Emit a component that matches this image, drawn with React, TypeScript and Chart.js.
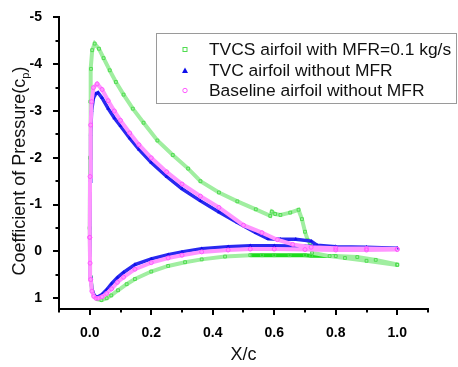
import { useEffect, useRef } from "react";
import { Chart, registerables } from "chart.js";

Chart.register(...registerables);

const FONT = "'Liberation Sans', Arial, Helvetica, sans-serif";

const SERIES_NAMES = [
  "TVCS airfoil with MFR=0.1 kg/s",
  "TVC airfoil without MFR",
  "Baseline airfoil without MFR",
];

// TVCS airfoil, MFR = 0.1 kg/s — suction side (leading edge -> trailing edge)
const tvcsUpperX = [0, 0.001, 0.002, 0.004, 0.008, 0.016, 0.03, 0.045, 0.065, 0.085, 0.11, 0.14, 0.175, 0.22, 0.27, 0.32, 0.36, 0.42, 0.48, 0.54, 0.587, 0.592, 0.603, 0.62, 0.652, 0.679, 0.69, 0.7, 0.709, 0.717, 0.723, 0.78, 0.83, 0.9, 1.0];
const tvcsUpperCp = [-0.5, -2.0, -3.2, -3.9, -4.3, -4.44, -4.33, -4.13, -3.87, -3.62, -3.35, -3.05, -2.75, -2.37, -2.06, -1.77, -1.5, -1.26, -1.07, -0.9, -0.76, -0.85, -0.8, -0.78, -0.83, -0.89, -0.69, -0.42, -0.24, -0.17, 0.03, 0.1, 0.14, 0.2, 0.29];
// TVCS airfoil — pressure side
const tvcsLowerX = [0, 0.001, 0.003, 0.007, 0.014, 0.025, 0.038, 0.055, 0.07, 0.092, 0.12, 0.147, 0.2, 0.255, 0.31, 0.364, 0.44, 0.522, 0.56, 0.6, 0.65, 0.7, 0.72, 0.8, 0.87, 0.93, 1.0];
const tvcsLowerCp = [-0.5, 0.2, 0.55, 0.82, 0.95, 1.02, 1.04, 1.0, 0.94, 0.83, 0.7, 0.59, 0.43, 0.31, 0.23, 0.17, 0.11, 0.08, 0.08, 0.08, 0.08, 0.08, 0.09, 0.1, 0.12, 0.18, 0.28];

// TVC airfoil without mass flow
const tvcUpperX = [0, 0.001, 0.003, 0.006, 0.012, 0.02, 0.027, 0.04, 0.06, 0.08, 0.1, 0.13, 0.16, 0.2, 0.25, 0.3, 0.36, 0.42, 0.48, 0.54, 0.58, 0.62, 0.67, 0.72, 0.74, 0.8, 0.9, 1.0];
const tvcUpperCp = [-0.3, -1.5, -2.5, -3.0, -3.28, -3.37, -3.39, -3.28, -3.05, -2.85, -2.68, -2.42, -2.18, -1.9, -1.6, -1.34, -1.08, -0.84, -0.62, -0.4, -0.27, -0.26, -0.26, -0.22, -0.13, -0.1, -0.08, -0.07];
const tvcLowerX = [0, 0.001, 0.003, 0.007, 0.013, 0.02, 0.027, 0.04, 0.055, 0.071, 0.09, 0.11, 0.147, 0.2, 0.255, 0.3, 0.364, 0.45, 0.522, 0.6, 0.7, 0.8, 0.9, 1.0];
const tvcLowerCp = [-0.3, 0.2, 0.55, 0.8, 0.92, 0.97, 0.97, 0.92, 0.82, 0.69, 0.56, 0.45, 0.28, 0.16, 0.07, 0.01, -0.06, -0.1, -0.12, -0.12, -0.11, -0.1, -0.09, -0.07];

// Baseline airfoil without mass flow
const baseUpperX = [0, 0.001, 0.003, 0.006, 0.012, 0.024, 0.04, 0.06, 0.08, 0.1, 0.13, 0.16, 0.2, 0.25, 0.3, 0.36, 0.42, 0.5, 0.56, 0.61, 0.66, 0.72, 0.8, 0.9, 1.0];
const baseUpperCp = [-0.3, -1.6, -2.7, -3.2, -3.5, -3.58, -3.46, -3.22, -3.0, -2.8, -2.53, -2.28, -2.0, -1.7, -1.44, -1.18, -0.94, -0.56, -0.4, -0.25, -0.15, -0.09, -0.07, -0.06, -0.05];
const baseLowerX = [0, 0.001, 0.003, 0.007, 0.013, 0.02, 0.027, 0.04, 0.055, 0.071, 0.09, 0.11, 0.147, 0.2, 0.255, 0.3, 0.364, 0.45, 0.522, 0.6, 0.7, 0.8, 0.9, 1.0];
const baseLowerCp = [-0.3, 0.25, 0.6, 0.85, 0.96, 1.0, 1.0, 0.97, 0.9, 0.8, 0.66, 0.55, 0.38, 0.24, 0.14, 0.08, 0.01, -0.03, -0.05, -0.05, -0.04, -0.03, -0.03, -0.04];

const X_TICKS = [0, 0.2, 0.4, 0.6, 0.8, 1.0];
const X_MINOR = [-0.1, 0.1, 0.3, 0.5, 0.7, 0.9, 1.1];
const Y_TICKS = [-5, -4, -3, -2, -1, 0, 1];
const Y_MINOR = [-4.5, -3.5, -2.5, -1.5, -0.5, 0.5];

const X_TITLE = "X/c";
const Y_TITLE = "Coefficient of Pressure(c";
const Y_TITLE_SUB = "p";
const Y_TITLE_END = ")";

const GREEN = "rgb(80,220,80)";
const GREEN_LINE = "rgb(160,238,160)";
const GREEN_DENSE = "rgb(30,220,30)";
const BLUE = "rgb(15,15,235)";
const BLUE_LINE = "rgb(40,40,240)";
const MAGENTA = "rgb(255,90,255)";
const MAGENTA_LINE = "rgb(255,150,255)";

type Pt = { x: number; y: number };

// Walk the pressure side from the trailing edge to the nose, then the suction side back out.
function contour(lx: number[], lcp: number[], ux: number[], ucp: number[]): Pt[] {
  const pts: Pt[] = [];
  for (let i = lx.length - 1; i >= 0; i--) pts.push({ x: lx[i], y: lcp[i] });
  for (let i = 0; i < ux.length; i++) pts.push({ x: ux[i], y: ucp[i] });
  return pts;
}

const decorPlugin = {
  id: "originDecor",
  afterDraw(chart: any) {
    const { ctx, chartArea } = chart;
    const xs = chart.scales.x;
    const ys = chart.scales.y;
    ctx.save();
    ctx.strokeStyle = "#000";
    ctx.lineWidth = 2;
    ctx.beginPath();
    for (const v of X_TICKS) {
      const px = Math.round(xs.getPixelForValue(v));
      ctx.moveTo(px, chartArea.bottom);
      ctx.lineTo(px, chartArea.bottom + 6);
    }
    for (const v of X_MINOR) {
      const px = Math.round(xs.getPixelForValue(v));
      ctx.moveTo(px, chartArea.bottom);
      ctx.lineTo(px, chartArea.bottom + 3.5);
    }
    for (const v of Y_TICKS) {
      const py = Math.round(ys.getPixelForValue(v));
      ctx.moveTo(chartArea.left, py);
      ctx.lineTo(chartArea.left - 6, py);
    }
    for (const v of Y_MINOR) {
      const py = Math.round(ys.getPixelForValue(v));
      ctx.moveTo(chartArea.left, py);
      ctx.lineTo(chartArea.left - 3.5, py);
    }
    ctx.stroke();

    // axis titles
    ctx.fillStyle = "#111";
    ctx.font = `18px ${FONT}`;
    ctx.textAlign = "center";
    ctx.textBaseline = "alphabetic";
    ctx.fillText(X_TITLE, (chartArea.left + chartArea.right) / 2, chartArea.bottom + 51);

    ctx.save();
    ctx.translate(25, 171);
    ctx.rotate(-Math.PI / 2);
    ctx.textAlign = "left";
    ctx.font = `18px ${FONT}`;
    const w1 = ctx.measureText(Y_TITLE).width;
    const w3 = ctx.measureText(Y_TITLE_END).width;
    ctx.font = `11px ${FONT}`;
    const w2 = ctx.measureText(Y_TITLE_SUB).width;
    let sx = -(w1 + w2 + w3) / 2;
    ctx.font = `18px ${FONT}`;
    ctx.fillText(Y_TITLE, sx, 0);
    sx += w1;
    ctx.font = `11px ${FONT}`;
    ctx.fillText(Y_TITLE_SUB, sx, 4);
    sx += w2;
    ctx.font = `18px ${FONT}`;
    ctx.fillText(Y_TITLE_END, sx, 0);
    ctx.restore();

    // legend box
    const bx = 156.5;
    const by = 33.5;
    const bw = 300;
    const bh = 70;
    ctx.fillStyle = "#fff";
    ctx.fillRect(bx, by, bw, bh);
    ctx.strokeStyle = "#9a9a9a";
    ctx.lineWidth = 1;
    ctx.strokeRect(bx, by, bw, bh);
    const rows = [49.5, 70.5, 90.5];
    const mx = 185;
    chart.data.datasets.forEach((ds: any, i: number) => {
      const cy = rows[i];
      ctx.lineWidth = 1;
      if (i === 0) {
        ctx.strokeStyle = GREEN;
        ctx.strokeRect(mx - 2, cy - 2, 4, 4);
      } else if (i === 1) {
        ctx.fillStyle = BLUE;
        ctx.beginPath();
        ctx.moveTo(mx, cy - 3);
        ctx.lineTo(mx + 3, cy + 2.5);
        ctx.lineTo(mx - 3, cy + 2.5);
        ctx.closePath();
        ctx.fill();
      } else {
        ctx.strokeStyle = MAGENTA;
        ctx.beginPath();
        ctx.arc(mx, cy, 2.2, 0, Math.PI * 2);
        ctx.stroke();
      }
      ctx.fillStyle = "#111";
      ctx.font = `17.4px ${FONT}`;
      ctx.textAlign = "left";
      ctx.textBaseline = "middle";
      ctx.fillText(ds.label, 209, cy + 1);
    });
    ctx.restore();
  },
};

export default function App() {
  const canvasRef = useRef<HTMLCanvasElement | null>(null);

  useEffect(() => {
    document.body.style.margin = "0";
    const canvas = canvasRef.current;
    if (!canvas) return;

    const tickFont = { family: FONT, size: 14, weight: "bold" as const };

    const chart = new Chart(canvas, {
      type: "scatter",
      data: {
        datasets: [
          {
            label: SERIES_NAMES[0],
            data: contour(tvcsLowerX, tvcsLowerCp, tvcsUpperX, tvcsUpperCp),
            showLine: true,
            borderColor: GREEN_LINE,
            borderWidth: 4,
            segment: {
              borderColor: (c: any) => {
                const a = c.p0.parsed;
                const b = c.p1.parsed;
                return a.y > 0 && b.y > 0 && a.x >= 0.56 && b.x <= 0.72 ? GREEN_DENSE : undefined;
              },
            },
            pointStyle: "rect",
            pointRadius: 2,
            pointBorderWidth: 1,
            pointBorderColor: GREEN,
            pointBackgroundColor: "rgba(255,255,255,0)",
            order: 3,
          },
          {
            label: SERIES_NAMES[1],
            data: contour(tvcLowerX, tvcLowerCp, tvcUpperX, tvcUpperCp),
            showLine: true,
            borderColor: BLUE_LINE,
            borderWidth: 3.5,
            pointStyle: "triangle",
            pointRadius: 2.2,
            pointBorderWidth: 0,
            pointBackgroundColor: BLUE,
            order: 2,
          },
          {
            label: SERIES_NAMES[2],
            data: contour(baseLowerX, baseLowerCp, baseUpperX, baseUpperCp),
            showLine: true,
            borderColor: MAGENTA_LINE,
            borderWidth: 4,
            pointStyle: "circle",
            pointRadius: 2,
            pointBorderWidth: 1,
            pointBorderColor: MAGENTA,
            pointBackgroundColor: "rgba(255,255,255,0)",
            order: 1,
          },
        ],
      },
      options: {
        animation: false,
        responsive: false,
        layout: { padding: { left: 0, top: 10, right: 30, bottom: 0 } },
        plugins: {
          legend: { display: false },
          tooltip: { enabled: false },
        },
        scales: {
          x: {
            type: "linear",
            min: -0.1,
            max: 1.1,
            afterBuildTicks: (s: any) => {
              s.ticks = X_TICKS.map((v) => ({ value: v }));
            },
            afterFit: (s: any) => {
              s.height = 58;
            },
            grid: { display: false },
            border: { display: true, color: "#000", width: 2 },
            ticks: {
              font: tickFont,
              color: "#000",
              padding: 8,
              maxRotation: 0,
              autoSkip: false,
              callback: (v: any) => Number(v).toFixed(1),
            },
          },
          y: {
            type: "linear",
            reverse: true,
            min: -5,
            max: 1.23,
            afterBuildTicks: (s: any) => {
              s.ticks = Y_TICKS.map((v) => ({ value: v }));
            },
            afterFit: (s: any) => {
              s.width = 59;
            },
            grid: { display: false },
            border: { display: true, color: "#000", width: 2 },
            ticks: {
              font: tickFont,
              color: "#000",
              padding: 9,
              autoSkip: false,
              callback: (v: any) => String(v),
            },
          },
        },
      },
      plugins: [decorPlugin],
    });

    return () => chart.destroy();
  }, []);

  return (
    <canvas
      ref={canvasRef}
      width={458}
      height={367}
      style={{ display: "block", width: 458, height: 367 }}
    />
  );
}
